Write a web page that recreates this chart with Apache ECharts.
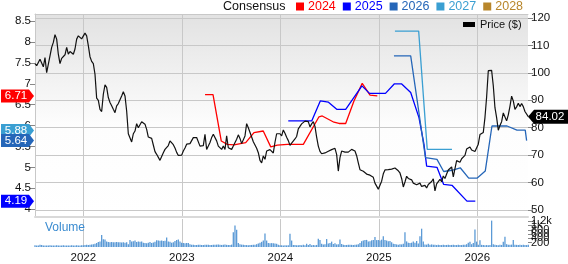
<!DOCTYPE html>
<html><head><meta charset="utf-8">
<script src="https://cdn.jsdelivr.net/npm/echarts@6/dist/echarts.min.js"></script>
<style>html,body{margin:0;padding:0;background:#fff}#c{width:568px;height:264px}</style>
</head><body><div id="c"></div>
<script>
const FONT = '"Liberation Sans", Arial, sans-serif';
// time scale (decimal years)
const startYear = 2021.5096;
const stepYear = 0.01692;
const xMin = 2021.5096, xMax = 2026.515;
const yearTicks = [2022, 2023, 2024, 2025, 2026];
const epsTicks = [4, 4.5, 5, 5.5, 6, 6.5, 7, 7.5, 8, 8.5];
const priceTicks = [50, 60, 70, 80, 90, 100, 110, 120];

const price = [
103.4,102.6,102.6,105.0,105.0,102.2,105.6,100.1,100.8,106.2,109.3,111.1,113.9,112.3,106.8,103.4,105.3,105.9,106.6,109.3,
106.8,107.8,107.1,106.8,108.7,112.3,113.5,112.9,112.4,112.9,114.5,113.5,109.9,105.9,104.2,103.4,99.5,90.8,90.0,86.7,
85.9,92.2,95.6,94.7,91.0,89.2,88.0,86.7,85.5,88.0,88.8,88.8,91.6,93.1,91.6,86.1,77.8,77.4,74.8,77.8,
78.8,81.5,80.0,79.8,82.2,82.6,81.3,79.4,76.6,76.6,76.1,73.7,71.3,70.3,69.6,68.1,68.8,70.9,72.1,72.6,
73.5,75.2,75.2,73.8,72.6,71.0,69.9,69.2,70.0,71.5,72.6,74.0,74.4,74.2,74.8,76.4,75.9,76.4,76.1,73.3,
73.6,73.5,77.6,72.1,73.3,74.6,76.4,77.6,77.0,75.2,73.3,72.7,72.1,73.3,72.1,77.0,72.7,72.1,72.1,73.3,
73.5,75.8,77.4,76.1,74.2,74.2,77.0,81.5,80.0,80.6,76.6,74.9,73.7,72.5,70.9,68.1,67.2,69.7,68.5,71.5,
71.0,72.0,72.2,70.8,74.7,77.8,78.5,77.8,77.0,79.2,78.0,76.5,75.3,73.6,74.4,74.3,75.9,76.8,79.6,80.3,
81.4,82.0,82.4,82.0,82.2,80.3,81.4,82.2,80.5,76.6,73.3,71.4,70.5,70.4,70.8,71.3,71.4,71.5,72.0,72.1,
72.5,70.3,64.2,69.1,71.5,72.1,71.1,71.5,71.1,71.5,72.1,71.9,71.5,69.8,67.2,64.7,64.4,64.1,63.5,63.1,
63.5,62.7,62.1,61.9,59.8,59.3,57.6,58.0,60.5,63.2,64.6,65.2,64.7,65.3,64.9,65.2,65.3,64.7,64.3,63.5,
61.5,58.4,60.2,62.3,61.5,61.5,61.0,59.8,59.7,59.2,59.8,59.8,58.6,59.1,59.0,58.0,59.3,59.8,60.4,61.4,
57.0,59.5,59.0,61.2,60.3,62.4,61.5,63.1,64.6,64.3,65.7,62.1,65.1,68.0,68.0,67.4,68.7,68.6,69.9,72.2,
71.8,73.0,71.9,72.5,71.3,71.4,74.0,77.5,76.8,78.3,83.7,91.2,100.8,101.4,100.9,95.3,87.3,83.7,79.1,80.8,
82.2,85.4,85.2,82.5,84.7,87.8,91.5,89.8,86.7,87.6,88.9,87.7,88.8,87.7,85.9,85.9,84.02
];

const volume = [
80,70,75,110,90,70,75,65,70,80,75,70,75,80,70,65,75,80,70,75,70,65,80,75,70,80,75,70,80,85,
90,100,95,110,120,130,150,190,
230,260,560,360,350,260,230,
220,230,225,215,230,220,225,210,220,200,215,
130,330,250,270,300,230,260,240,250,200,190,170,200,230,190,210,240,310,300,290,300,280,290,440,260,240,200,220,280,330,350,260,200,190,170,190,180,130,
110,100,95,90,100,105,95,90,100,110,100,95,90,100,105,110,120,100,95,110,120,100,95,90,110,
690,1000,800,180,130,
110,100,95,90,85,90,95,100,110,130,160,200,
240,300,625,300,180,170,180,170,160,150,110,80,
80,75,80,75,80,
620,300,90,
90,80,85,90,80,100,85,150,90,140,80,90,85,95,
380,330,150,120,130,370,160,180,250,140,170,120,130,350,140,
100,90,95,100,110,100,95,100,110,130,180,
270,300,320,330,250,270,310,330,470,320,330,300,340,500,320,300,270,280,220,150,140,120,110,130,120,150,690,260,200,180,200,250,200,280,160,500,850,250,120,
110,150,100,120,110,100,90,100,95,90,100,90,95,100,90,95,100,95,90,100,95,90,100,110,
130,200,240,130,190,810,250,100,310,100,
90,80,90,85,90,
1225,130,
100,90,85,100,95,
240,480,130,110,100,110,320,110,
100,95,100,90,100,95,90,100
];

const eps2024 = [[2023.236,6.74],[2023.317,6.74],[2023.401,5.63],[2023.462,5.55],[2023.530,5.54],[2023.649,5.59],[2023.733,5.83],[2023.827,5.87],[2023.903,5.49],[2023.970,5.53],[2024.071,5.55],[2024.234,5.55],[2024.393,6.21],[2024.426,6.23],[2024.545,6.08],[2024.596,6.05],[2024.664,6.05],[2024.748,6.59],[2024.832,7.01],[2024.911,6.73],[2024.985,6.71]];
const eps2025 = [[2024.081,6.11],[2024.319,6.11],[2024.406,6.59],[2024.489,6.56],[2024.573,6.39],[2024.664,6.39],[2024.829,6.95],[2024.906,6.77],[2025.068,6.77],[2025.159,7.00],[2025.230,7.00],[2025.324,6.79],[2025.408,6.19],[2025.459,5.55],[2025.486,5.03],[2025.591,5.00],[2025.659,4.59],[2025.743,4.57],[2025.895,4.19],[2025.980,4.19]];
const eps2026 = [[2025.154,7.67],[2025.324,7.67],[2025.474,5.23],[2025.591,5.19],[2025.659,4.90],[2025.743,4.93],[2025.827,4.99],[2025.913,4.74],[2025.997,4.74],[2026.081,4.91],[2026.149,5.99],[2026.302,5.99],[2026.403,5.89],[2026.487,5.89],[2026.501,5.64]];
const eps2027 = [[2025.164,8.26],[2025.405,8.26],[2025.492,5.43],[2025.743,5.43]];
const eps2028 = [];

const latestEps = [
  {v: 6.71, c: '#ff0000'},
  {v: 5.88, c: '#3a9fd2'},
  {v: 5.64, c: '#2566b8'},
  {v: 4.19, c: '#0000ff'}
];
const lastPrice = 84.02;

const COLORS = {'2024':'#ff0000','2025':'#0000ff','2026':'#2566b8','2027':'#3a9fd2','2028':'#b8862b'};

const chart = echarts.init(document.getElementById('c'), null, {renderer:'canvas'});

function epsSeries(name, data){
  return {name, type:'line', xAxisIndex:0, yAxisIndex:0, data, showSymbol:false, symbol:'none',
    color: COLORS[name], lineStyle:{color: COLORS[name], width:1.3}, z:3, animation:false};
}

const option = {
  animation:false,
  textStyle:{fontFamily:FONT},
  title:[
    {text:'Consensus', left:223, top:0, padding:0, textStyle:{fontSize:12.5, fontWeight:'normal', color:'#111', fontFamily:FONT}},
    {text:'Volume', left:45, top:222, padding:0, textStyle:{fontSize:12, fontWeight:'normal', color:'#3a8bd0', fontFamily:FONT}}
  ],
  legend:[
    {left:296, top:0, padding:0, itemWidth:8, itemHeight:8, itemGap:7, icon:'rect', selectedMode:false,
     textStyle:{fontSize:12.5, fontFamily:FONT, padding:[0,0,0,-1]},
     data:['2024','2025','2026','2027','2028'].map(n=>({name:n, textStyle:{color:COLORS[n]}}))},
    {left:463, top:19, padding:0, itemWidth:12, itemHeight:5, icon:'rect', selectedMode:false,
     textStyle:{fontSize:11, fontFamily:FONT, color:'#111'}, data:['Price ($)']}
  ],
  grid:[
    {left:35, top:14, width:493, height:203, show:true, borderWidth:0,
     backgroundColor:new echarts.graphic.LinearGradient(0,0,0,1,[{offset:0,color:'#e2e2e2'},{offset:0.55,color:'#fdfdfd'},{offset:1,color:'#ffffff'}])},
    {left:35, top:219, width:493, height:35, show:false}
  ],
  xAxis:[
    {type:'value', gridIndex:0, min:xMin, max:xMax, position:'bottom',
     axisLine:{show:true, lineStyle:{color:'#d9d9d9', width:2}},
     axisTick:{show:false, customValues:yearTicks},
     axisLabel:{show:false, customValues:yearTicks},
     splitLine:{show:true, customValues:yearTicks, lineStyle:{color:'#c8c8c8', width:1}}},
    {type:'value', gridIndex:1, min:xMin, max:xMax, position:'bottom',
     axisLine:{show:false},
     axisTick:{show:false, customValues:yearTicks},
     axisLabel:{show:true, customValues:yearTicks, margin:5, fontSize:11.5, color:'#111', fontFamily:FONT, formatter:v=>String(Math.round(v))},
     splitLine:{show:true, customValues:yearTicks, lineStyle:{color:'#c8c8c8', width:1}}},
    {type:'value', gridIndex:0, min:xMin, max:xMax, position:'top',
     axisLine:{show:true, lineStyle:{color:'#c8c8c8', width:1}}, axisTick:{show:false}, axisLabel:{show:false}, splitLine:{show:false}}
  ],
  yAxis:[
    {type:'value', gridIndex:0, position:'left', min:3.811, max:8.671,
     axisLine:{show:true, lineStyle:{color:'#c8c8c8'}},
     axisTick:{show:true, length:5, customValues:epsTicks, lineStyle:{color:'#888'}},
     axisLabel:{customValues:epsTicks, margin:4, fontSize:11.5, color:'#111', fontFamily:FONT},
     splitLine:{show:false}},
    {type:'value', gridIndex:0, position:'right', min:47.45, max:121.46,
     axisLine:{show:false},
     axisTick:{show:true, length:5, customValues:priceTicks, lineStyle:{color:'#888'}},
     axisLabel:{customValues:priceTicks, margin:3, fontSize:11.5, color:'#111', fontFamily:FONT},
     splitLine:{show:true, customValues:priceTicks, lineStyle:{color:'#c8c8c8', width:1}}},
    {type:'value', gridIndex:1, position:'right', min:0, max:1300, interval:200,
     axisLine:{show:false},
     axisTick:{show:true, length:4, lineStyle:{color:'#888'}},
     axisLabel:{margin:3, fontSize:11, color:'#111', fontFamily:FONT, formatter:v=> v>=1000 ? (v/1000)+'k' : String(v)},
     splitLine:{show:false}}
  ],
  series:[
    {name:'Volume', type:'bar', xAxisIndex:1, yAxisIndex:2, barWidth:1.3,
     data: volume.map((v,i)=>[startYear+i*stepYear, v]),
     itemStyle:{color:'#5b9ad6'}, animation:false},
    epsSeries('2024', eps2024),
    epsSeries('2025', eps2025),
    epsSeries('2026', eps2026),
    epsSeries('2027', eps2027),
    epsSeries('2028', eps2028),
    {name:'Price ($)', type:'line', xAxisIndex:0, yAxisIndex:1, showSymbol:false, symbol:'none',
     data: price.map((v,i)=>[startYear+i*stepYear, v]), color:'#000',
     lineStyle:{color:'#111', width:1.2}, z:5, animation:false}
  ]
};
chart.setOption(option);

const g = [];
latestEps.forEach(b=>{
  const y = chart.convertToPixel({yAxisIndex:0}, b.v);
  g.push({type:'polygon', z:100, shape:{points:[[1,y-6.5],[29,y-6.5],[34,y],[29,y+6.5],[1,y+6.5]]}, style:{fill:b.c}});
  g.push({type:'text', z:101, x:16, y:y, style:{text:b.v.toFixed(2), fill:'#fff', font:'11.5px '+FONT, align:'center', verticalAlign:'middle'}});
});
const py = chart.convertToPixel({yAxisIndex:1}, lastPrice);
g.push({type:'polygon', z:100, shape:{points:[[528,py],[534,py-7],[568,py-7],[568,py+7],[534,py+7]]}, style:{fill:'#000'}});
g.push({type:'text', z:101, x:550, y:py, style:{text:lastPrice.toFixed(2), fill:'#fff', font:'11.5px '+FONT, align:'center', verticalAlign:'middle'}});
chart.setOption({graphic:g});
</script></body></html>
